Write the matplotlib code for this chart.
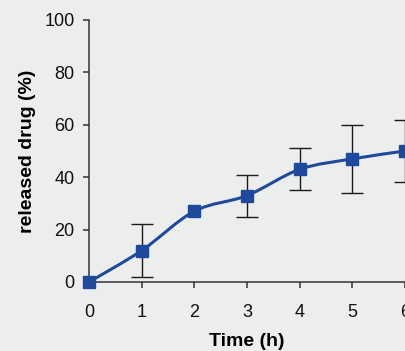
import matplotlib
matplotlib.use("Agg")
import matplotlib.pyplot as plt
from matplotlib.path import Path
from matplotlib.patches import PathPatch
import numpy as np

plt.rcParams['font.family'] = ['Liberation Sans', 'DejaVu Sans']

# 데이터
time_h = [0, 1, 2, 3, 4, 5, 6]
released = [0, 12, 27, 33, 43, 47, 50]
err = [0, 10, 0, 8, 8, 13, 12]

x_ticks = [0, 1, 2, 3, 4, 5, 6]
y_ticks = [0, 20, 40, 60, 80, 100]

BLUE = '#1f4a9c'
BG = '#eceeed'

fig = plt.figure(figsize=(4.05, 3.51), dpi=100, facecolor=BG)
ax = fig.add_axes([89 / 405, 69 / 351, 316 / 405, 262 / 351])
ax.set_facecolor(BG)

# 부드러운 곡선 (Excel 스타일 smoothing, Catmull-Rom -> Bezier)
x = np.array(time_h, dtype=float)
y = np.array(released, dtype=float)
verts = [(x[0], y[0])]
codes = [Path.MOVETO]
n = len(x)
for i in range(n - 1):
    p0 = (x[max(i - 1, 0)], y[max(i - 1, 0)])
    p1 = (x[i], y[i])
    p2 = (x[i + 1], y[i + 1])
    p3 = (x[min(i + 2, n - 1)], y[min(i + 2, n - 1)])
    c1 = (p1[0] + (p2[0] - p0[0]) / 6, p1[1] + (p2[1] - p0[1]) / 6)
    c2 = (p2[0] - (p3[0] - p1[0]) / 6, p2[1] - (p3[1] - p1[1]) / 6)
    verts += [c1, c2, p2]
    codes += [Path.CURVE4] * 3
curve = PathPatch(Path(verts, codes), fill=False, edgecolor=BLUE,
                  linewidth=2.2, transform=ax.transData, clip_on=False, zorder=3)
ax.add_patch(curve)

# 오차막대
err_plot = [e if e > 0 else np.nan for e in err]
ax.errorbar(time_h, released, yerr=err_plot, fmt='none', ecolor='#1a1a1a',
            elinewidth=1.0, capsize=8, capthick=1.0, clip_on=False, zorder=2)

# 마커
ax.plot(time_h, released, linestyle='none', marker='s', markersize=8.5,
        color=BLUE, clip_on=False, zorder=4)

ax.set_xlim(0, 5.985)
ax.set_ylim(0, 100)
ax.set_xticks(x_ticks)
ax.set_yticks(y_ticks)

for s in ['top', 'right']:
    ax.spines[s].set_visible(False)
for s in ['left', 'bottom']:
    ax.spines[s].set_color('#333333')
    ax.spines[s].set_linewidth(1.1)

ax.tick_params(axis='both', colors='#333333', labelcolor='#111111',
               labelsize=13, length=4.5, width=1.1, direction='out')
ax.tick_params(axis='x', pad=11)
ax.tick_params(axis='y', pad=6)

ax.set_xlabel('Time (h)', fontsize=14, fontweight='bold', labelpad=9)
ax.set_ylabel('released drug (%)', fontsize=14, fontweight='bold', labelpad=6)

plt.savefig('out.png', dpi=100, facecolor=BG)
plt.close()
